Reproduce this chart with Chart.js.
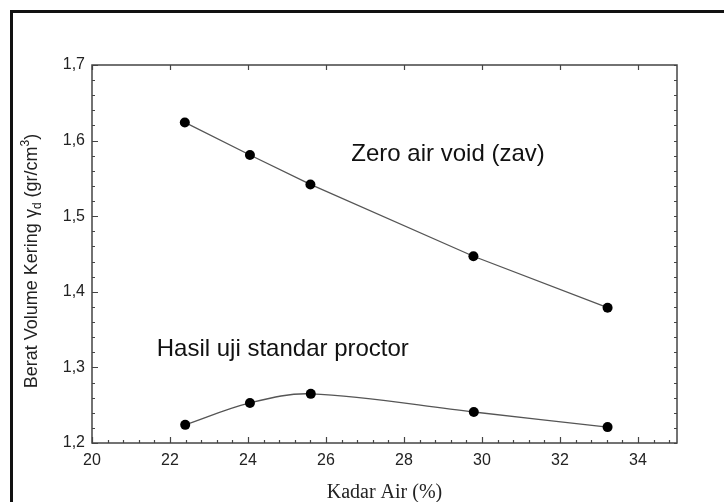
<!DOCTYPE html>
<html>
<head>
<meta charset="utf-8">
<script src="https://cdn.jsdelivr.net/npm/chart.js@4"></script>
<style>
  html, body { margin: 0; padding: 0; background: #fff; }
  #wrap { width: 724px; height: 502px; }
</style>
</head>
<body>
<div id="wrap"><canvas id="myChart" width="724" height="502"></canvas></div>
<script>
// data
const kadarAirZav = [22.38, 24.05, 25.6, 29.78, 33.22];
const beratZav = [1.624, 1.581, 1.542, 1.447, 1.379];
const kadarAirProctor = [22.39, 24.05, 25.61, 29.79, 33.22];
const beratProctor = [1.224, 1.253, 1.265, 1.241, 1.221];
const xTicks = [20, 22, 24, 26, 28, 30, 32, 34];
const yTicks = [1.2, 1.3, 1.4, 1.5, 1.6, 1.7];
const labelZav = 'Zero air void (zav)';
const labelProctor = 'Hasil uji standar proctor';

const toPoints = (xs, ys) => xs.map((x, i) => ({ x: x, y: ys[i] }));

// frame, inward ticks, annotations and the y title
const framePlugin = {
    id: 'frame',
    afterDraw(chart) {
        const ctx = chart.ctx;
        const a = chart.chartArea;
        const xs = chart.scales.x;
        const ys = chart.scales.y;
        ctx.save();

        // outer page box
        ctx.strokeStyle = '#111';
        ctx.lineWidth = 3;
        ctx.beginPath();
        ctx.moveTo(11.5, 502);
        ctx.lineTo(11.5, 11.5);
        ctx.lineTo(724, 11.5);
        ctx.stroke();

        // plot frame
        ctx.strokeStyle = '#444';
        ctx.lineWidth = 1.5;
        ctx.strokeRect(a.left, a.top, a.right - a.left, a.bottom - a.top);

        ctx.lineWidth = 1.2;
        ctx.beginPath();
        // x ticks: major every 2, minor every 0.4
        for (let v = xs.min; v <= xs.max + 1e-9; v += 0.4) {
            const px = Math.round(xs.getPixelForValue(v)) + 0.5;
            const major = Math.abs(v / 2 - Math.round(v / 2)) < 1e-6;
            const len = major ? 6 : 3;
            ctx.moveTo(px, a.bottom);
            ctx.lineTo(px, a.bottom - len);
            if (major) {
                ctx.moveTo(px, a.top);
                ctx.lineTo(px, a.top + 5);
            }
        }
        // y ticks: major every 0.1, minor every 0.02
        for (let i = 0; i <= 25; i++) {
            const v = ys.min + i * 0.02;
            const py = Math.round(ys.getPixelForValue(v)) + 0.5;
            const major = i % 5 === 0;
            const len = major ? 6 : 3;
            ctx.moveTo(a.left, py);
            ctx.lineTo(a.left + len, py);
            ctx.moveTo(a.right, py);
            ctx.lineTo(a.right - 3, py);
        }
        ctx.stroke();

        // annotations
        ctx.fillStyle = '#111';
        ctx.font = '24px "Liberation Sans", Arial, sans-serif';
        ctx.textBaseline = 'alphabetic';
        ctx.textAlign = 'left';
        ctx.fillText(labelZav, xs.getPixelForValue(26.65), ys.getPixelForValue(1.573));
        ctx.fillText(labelProctor, xs.getPixelForValue(21.66), ys.getPixelForValue(1.3155));

        // y title with subscript and superscript
        const big = '18px "Liberation Sans", Arial, sans-serif';
        const small = '12px "Liberation Sans", Arial, sans-serif';
        const parts = [
            { t: 'Berat Volume Kering \u03b3', f: big, dy: 0 },
            { t: 'd', f: small, dy: 4 },
            { t: ' (gr/cm', f: big, dy: 0 },
            { t: '3', f: small, dy: -8 },
            { t: ')', f: big, dy: 0 }
        ];
        let total = 0;
        parts.forEach(p => { ctx.font = p.f; total += ctx.measureText(p.t).width; });
        ctx.translate(37, (a.top + a.bottom) / 2 + 7);
        ctx.rotate(-Math.PI / 2);
        let cx = -total / 2;
        ctx.fillStyle = '#222';
        parts.forEach(p => {
            ctx.font = p.f;
            ctx.fillText(p.t, cx, p.dy);
            cx += ctx.measureText(p.t).width;
        });
        ctx.restore();
    }
};

document.addEventListener('DOMContentLoaded', () => {
    const ctx = document.getElementById('myChart').getContext('2d');
    const myChart = new Chart(ctx, {
        type: 'line',
        data: {
            datasets: [{
                label: labelZav,
                data: toPoints(kadarAirZav, beratZav),
                borderColor: '#555',
                borderWidth: 1.3,
                tension: 0,
                pointRadius: 5,
                pointBackgroundColor: '#000',
                pointBorderColor: '#000',
                pointBorderWidth: 0
            }, {
                label: labelProctor,
                data: toPoints(kadarAirProctor, beratProctor),
                borderColor: '#555',
                borderWidth: 1.3,
                tension: 0.35,
                pointRadius: 5,
                pointBackgroundColor: '#000',
                pointBorderColor: '#000',
                pointBorderWidth: 0
            }]
        },
        options: {
            responsive: false,
            animation: false,
            layout: { padding: { top: 65, right: 47, bottom: 0, left: 0 } },
            scales: {
                x: {
                    type: 'linear',
                    min: 20,
                    max: 35,
                    afterFit: s => { s.height = 59; },
                    afterBuildTicks: s => { s.ticks = xTicks.map(v => ({ value: v })); },
                    grid: { display: false, drawTicks: false },
                    border: { display: false },
                    ticks: {
                        color: '#222',
                        padding: 8,
                        maxRotation: 0,
                        font: { family: '"Liberation Sans", Arial, sans-serif', size: 16 }
                    },
                    title: {
                        display: true,
                        text: 'Kadar Air (%)',
                        color: '#222',
                        padding: { top: 0, bottom: -3 },
                        font: { family: '"Liberation Serif", "Times New Roman", serif', size: 20 }
                    }
                },
                y: {
                    min: 1.2,
                    max: 1.7,
                    afterFit: s => { s.width = 92; },
                    afterBuildTicks: s => { s.ticks = yTicks.map(v => ({ value: v })); },
                    grid: { display: false, drawTicks: false },
                    border: { display: false },
                    ticks: {
                        color: '#222',
                        padding: 7,
                        callback: v => v.toFixed(1).replace('.', ','),
                        font: { family: '"Liberation Sans", Arial, sans-serif', size: 16 }
                    }
                }
            },
            plugins: {
                legend: { display: false },
                tooltip: { enabled: false }
            }
        },
        plugins: [framePlugin]
    });
});
</script>
</body>
</html>
